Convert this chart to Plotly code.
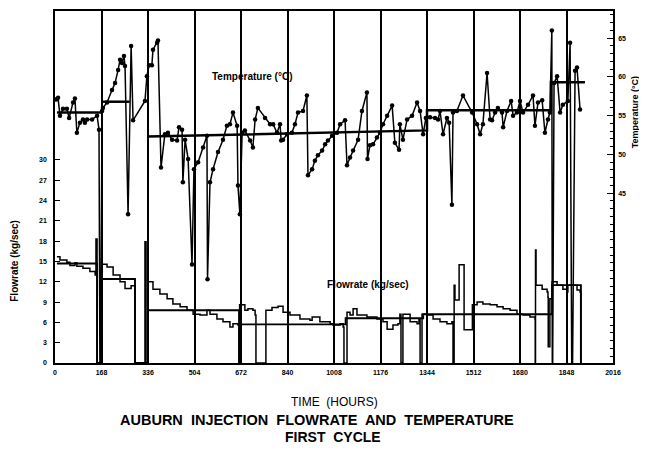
# plot.py
# Auburn injection — flowrate and temperature, first cycle (scanned-chart recreation)

import plotly.graph_objects as go

# ── Data ──────────────────────────────────────────────────────────────────
hour_ticks = [0, 168, 336, 504, 672, 840, 1008, 1176, 1344, 1512, 1680, 1848, 2016]
flow_ticks = [0, 3, 6, 9, 12, 15, 18, 21, 24, 27, 30]
temp_ticks = [45, 50, 55, 60, 65]

# measured injection temperature (°C); 15 = dropped off the bottom of the chart
temp_hours = [
    4, 11, 18, 29, 43, 51, 65, 72, 79, 90,
    101, 108, 116, 134, 152, 159, 163, 170, 173, 188,
    206, 217, 228, 235, 242, 249, 253, 264, 275, 282,
    325, 332, 340, 350, 354, 369, 372, 383, 397, 408,
    423, 441, 448, 459, 462, 470, 481, 495, 502, 517,
    535, 549, 551, 560, 571, 589, 607, 621, 632, 643,
    658, 661, 668, 676, 686, 705, 715, 723, 733, 759,
    777, 788, 802, 813, 817, 824, 838, 856, 867, 878,
    896, 910, 914, 929, 939, 950, 965, 976, 986, 1001,
    1019, 1030, 1048, 1055, 1066, 1077, 1095, 1109, 1127, 1129,
    1138, 1149, 1163, 1174, 1185, 1200, 1218, 1228, 1243, 1246,
    1257, 1272, 1290, 1308, 1319, 1330, 1340, 1355, 1373, 1384,
    1391, 1402, 1416, 1424, 1434, 1438, 1452, 1474, 1507, 1525,
    1536, 1546, 1561, 1572, 1579, 1590, 1600, 1615, 1619, 1633,
    1648, 1655, 1669, 1680, 1691, 1709, 1727, 1734, 1745, 1760,
    1770, 1781, 1788, 1795, 1797, 1803, 1814, 1825, 1835, 1853,
    1861, 1868, 1879, 1886, 1897,
]
temp_values = [
    57.1, 57.3, 55.0, 55.9, 55.9, 54.7, 56.7, 57.2, 52.8, 54.1,
    54.5, 54.1, 54.5, 54.5, 55.0, 53.2, 15, 55.6, 56.0, 56.7,
    58.3, 59.2, 60.9, 62.2, 61.8, 62.7, 61.4, 42.3, 64.0, 54.4,
    56.9, 60.1, 61.5, 61.5, 63.5, 64.4, 64.7, 48.3, 52.6, 52.8,
    51.9, 51.8, 53.5, 53.2, 46.4, 51.9, 49.4, 35.8, 48.1, 49.0,
    50.9, 52.4, 33.9, 46.4, 48.1, 50.3, 51.9, 53.7, 53.9, 55.4,
    53.7, 46.0, 42.3, 52.8, 53.1, 51.8, 50.9, 54.5, 56.0, 54.7,
    53.9, 53.9, 52.8, 53.9, 51.8, 51.9, 52.6, 52.8, 53.9, 55.4,
    55.6, 57.6, 47.3, 48.1, 49.2, 49.9, 50.5, 51.3, 51.8, 52.4,
    52.8, 53.9, 54.4, 48.6, 49.6, 50.5, 51.9, 55.6, 58.0, 49.4,
    51.2, 51.3, 52.2, 52.8, 53.9, 55.0, 56.3, 51.5, 50.6, 53.9,
    51.9, 54.5, 55.0, 56.7, 55.6, 52.6, 54.7, 54.8, 54.7, 54.5,
    55.6, 52.6, 54.7, 54.1, 43.5, 55.4, 55.6, 57.6, 55.4, 53.9,
    52.6, 53.9, 60.5, 54.5, 54.4, 55.4, 56.0, 55.4, 53.5, 55.6,
    56.9, 55.0, 55.4, 56.9, 55.4, 56.4, 57.6, 53.7, 56.7, 57.0,
    52.8, 54.5, 55.4, 66.0, 15, 59.2, 60.1, 55.4, 56.4, 56.9,
    64.4, 15, 60.8, 61.2, 55.8,
]

# period-average temperature
avg_temp_hours  = [7, 168, None, 168, 270, None, 336, 1344, 1344, 1792, 1792, 1915]
avg_temp_values = [55.4, 55.4, None, 56.8, 56.8, None, 52.3, 53.1, 55.7, 55.7, 59.3, 59.3]

# measured flowrate (kg/sec)
flow_hours = [
    7, 18, 43, 54, 72, 79, 101, 126, 145, 148,
    152, 163, 170, 188, 210, 235, 253, 275, 289, 322,
    325, 329, 332, 336, 354, 379, 405, 426, 452, 477,
    499, 524, 549, 560, 585, 607, 632, 643, 661, 664,
    667, 686, 697, 715, 723, 726, 755, 762, 784, 806,
    824, 849, 885, 921, 929, 957, 994, 1004, 1030, 1041,
    1044, 1051, 1055, 1066, 1077, 1091, 1127, 1163, 1185, 1200,
    1221, 1239, 1246, 1250, 1253, 1257, 1283, 1308, 1315, 1319,
    1322, 1326, 1344, 1366, 1391, 1416, 1434, 1438, 1442, 1445,
    1456, 1460, 1474, 1478, 1507, 1508, 1525, 1546, 1572, 1597,
    1619, 1644, 1669, 1691, 1716, 1734, 1735, 1736, 1738, 1760,
    1778, 1781, 1782, 1788, 1796, 1814, 1835, 1850, 1853, 1872,
    1886, 1897, 1900,
]
flow_values = [
    15.7, 15.2, 14.9, 14.4, 14.8, 14.3, 14.0, 13.5, 13.0, 18.3,
    0, 0, 14.6, 14.2, 13.0, 12.0, 11.0, 11.4, 0, 0,
    17.9, 0, 0, 12.0, 10.9, 10.2, 9.5, 8.7, 8.3, 7.8,
    7.2, 7.1, 7.8, 7.2, 6.5, 6.1, 5.3, 5.8, 5.6, 0,
    8.6, 7.8, 8.0, 7.8, 7.1, 0, 0, 7.8, 8.2, 8.4,
    7.5, 7.1, 6.5, 6.3, 6.8, 6.1, 5.8, 5.6, 5.8, 5.3,
    0, 0, 7.5, 7.1, 8.0, 7.1, 6.8, 6.5, 6.1, 5.0,
    5.6, 5.8, 7.2, 0, 0, 7.2, 6.1, 5.8, 6.5, 0,
    0, 7.2, 7.1, 6.5, 6.1, 5.8, 6.1, 0, 11.5, 9.3,
    9.3, 14.5, 14.5, 4.9, 4.9, 8.6, 9.0, 8.7, 8.6, 8.3,
    8.0, 7.8, 7.2, 7.1, 6.8, 6.5, 0, 16.7, 11.5, 10.9,
    10.5, 9.7, 2.4, 9.5, 12.0, 11.5, 10.9, 10.5, 11.5, 11.5,
    10.8, 10.5, 0,
]

# period-average flowrate (boxes)
avg_flow_hours  = [7, 152, 152, 166, 166, 289, 289, 336, 336, 665, 665, 1050, 1050, 1330, 1330, 1796, 1796, 1900, 1900]
avg_flow_values = [14.7, 14.7, 0, 0, 12.4, 12.4, 0, 0, 7.8, 7.8, 5.7, 5.7, 6.6, 6.6, 7.2, 7.2, 11.5, 11.5, 0]

# ── Style ─────────────────────────────────────────────────────────────────
# the page body adds an 8px margin, so the figure is 8px smaller each way
INK       = "#000000"
FONT      = "Liberation Sans"
TICK_FONT = dict(family=FONT, size=7, color=INK, weight="bold")


def note(text, x, y, xref="paper", size=10, bold=True, angle=0):
    return dict(
        text=text, x=x, y=y, xref=xref, yref="paper",
        xanchor="center", yanchor="middle", textangle=angle, showarrow=False,
        font=dict(size=size, color=INK, weight="bold" if bold else "normal"),
    )


fig = go.Figure()

fig.add_trace(go.Scatter(
    x=flow_hours, y=flow_values, mode="lines", line_shape="hv",
    line=dict(color=INK, width=1.5), yaxis="y",
))
fig.add_trace(go.Scatter(
    x=avg_flow_hours, y=avg_flow_values, mode="lines",
    line=dict(color=INK, width=1.9), yaxis="y",
))
fig.add_trace(go.Scatter(
    x=temp_hours, y=temp_values, mode="lines+markers",
    line=dict(color=INK, width=1.5),
    marker=dict(color=INK, size=4.5),
    yaxis="y2",
))
fig.add_trace(go.Scatter(
    x=avg_temp_hours, y=avg_temp_values, mode="lines",
    line=dict(color=INK, width=2.5), yaxis="y2",
))

fig.update_layout(
    width=639, height=448,
    paper_bgcolor="white", plot_bgcolor="white",
    margin=dict(l=47, r=34, t=1, b=93),
    showlegend=False,
    font=dict(family=FONT, color=INK),
    xaxis=dict(
        range=[0, 2016], tickvals=hour_ticks, ticks="",
        tickfont=TICK_FONT, ticklabelstandoff=2,
        showgrid=True, gridcolor=INK, gridwidth=1.5,
        showline=True, linecolor=INK, linewidth=1.6, mirror=True,
        zeroline=False,
    ),
    yaxis=dict(
        range=[0, 52], tickvals=flow_ticks, ticks="inside", ticklen=5,
        tickcolor=INK, tickfont=TICK_FONT, ticklabelstandoff=5,
        showgrid=False, zeroline=False,
        showline=True, linecolor=INK, linewidth=1.6,
    ),
    yaxis2=dict(
        range=[23.1, 68.5], tickvals=temp_ticks, overlaying="y", side="right",
        ticks="inside", ticklen=6, tickcolor=INK, tickfont=TICK_FONT,
        ticklabelstandoff=2,
        minor=dict(dtick=1, ticks="inside", ticklen=3, tickcolor=INK, showgrid=False),
        showgrid=False, zeroline=False,
        showline=True, linecolor=INK, linewidth=1.6,
    ),
    annotations=[
        note("Temperature (°C)", 712, 0.814, xref="x"),
        note("Flowrate (kg/sec)", 1131, 0.222, xref="x"),
        note("Flowrate (kg/sec)", -0.072, 0.29, angle=-90),
        note("Temperature (°C)", 1.04, 0.713, size=9, angle=-90),
        note("TIME  (HOURS)", 0.5, -0.110, size=12, bold=False),
        note("AUBURN  INJECTION  FLOWRATE  AND  TEMPERATURE", 0.469, -0.163, size=14.5),
        note("FIRST  CYCLE", 0.498, -0.211, size=14),
    ],
)

fig.write_html("out.html")
